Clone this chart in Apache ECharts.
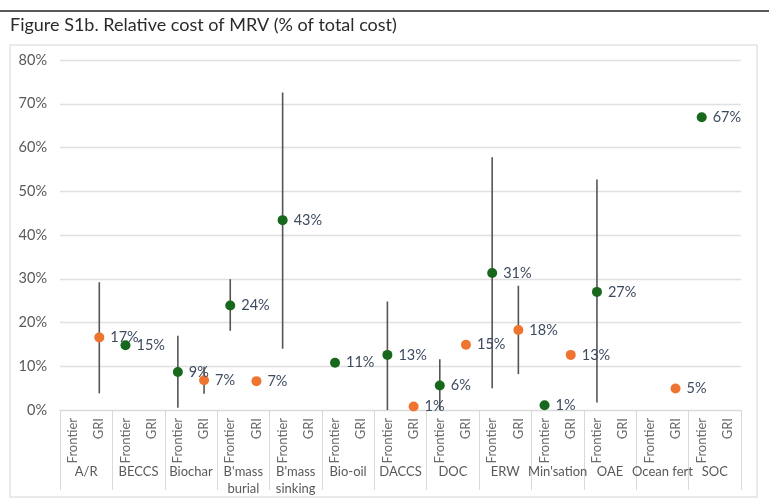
<!DOCTYPE html>
<html><head><meta charset="utf-8">
<script src="https://cdn.jsdelivr.net/npm/echarts@6/dist/echarts.min.js"></script>
<style>html,body{margin:0;padding:0;background:#fff}#c{width:769px;height:503px}</style>
</head><body><div id="c"></div>
<script>
const groups = ['A/R','BECCS','Biochar',"B'mass\nburial","B'mass\nsinking",'Bio-oil','DACCS','DOC','ERW',"Min'sation",'OAE','Ocean fert','SOC'];
const subLabels = ['Frontier','GRI'];
const yTicks = {min:0, max:80, interval:10};
// % of total cost
const frontierValues = [null,14.8,8.7,23.9,43.4,10.8,12.6,5.6,31.3,1.1,27.0,null,66.9];
const frontierLow    = [null,null,0.5,18.1,14.0,null,0,0,5.0,null,1.7,null,null];
const frontierHigh   = [null,null,17.0,29.9,72.6,null,24.8,11.6,57.8,null,52.7,null,null];
const griValues      = [16.6,null,6.8,6.6,null,null,0.8,14.9,18.3,12.6,null,4.9,null];
const griLow         = [3.8,null,3.7,null,null,null,null,null,8.2,null,null,null,null];
const griHigh        = [29.2,null,9.9,null,null,null,null,null,28.4,null,null,null,null];

const cats = [];
groups.forEach(g => subLabels.forEach(s => cats.push(s)));

const fData = [], gData = [], bars = [];
groups.forEach((g,i) => {
  if (frontierValues[i] != null) fData.push([2*i, frontierValues[i]]);
  if (griValues[i] != null) gData.push([2*i+1, griValues[i]]);
  if (frontierLow[i] != null) bars.push([2*i, frontierLow[i], frontierHigh[i]]);
  if (griLow[i] != null) bars.push([2*i+1, griLow[i], griHigh[i]]);
});

const FONT = 'Lato';
const labelStyle = {show:true, position:'right', distance:6, color:'#3d4b60', fontSize:14.5, fontFamily:FONT,
  formatter: p => Math.round(p.value[1]) + '%'};

const chart = echarts.init(document.getElementById('c'), null, {renderer:'canvas'});
chart.setOption({
  animation:false,
  textStyle:{fontFamily:FONT},
  graphic:[
    {type:'line', shape:{x1:0,y1:11,x2:769,y2:11}, style:{stroke:'#222',lineWidth:1.5}},
    {type:'text', left:10, top:16, style:{text:'Figure S1b. Relative cost of MRV (% of total cost)', fill:'#2b2b2b', fontSize:18, fontFamily:FONT}},
    {type:'rect', shape:{x:10,y:45,width:747,height:452}, style:{fill:'none', stroke:'#e3e3e3', lineWidth:1.5}, z:-1}
  ],
  grid:{left:60, right:28, top:60, bottom:93},
  xAxis:[
    {type:'category', data:cats, position:'bottom',
     axisLine:{show:true, lineStyle:{color:'#d9d9d9'}}, axisTick:{show:false},
     axisLabel:{rotate:90, margin:8, color:'#6a6a6a', fontSize:13, fontFamily:FONT, interval:0}},
    {type:'category', data:groups, position:'bottom', offset:0,
     axisLine:{show:false}, axisTick:{show:true, length:80, lineStyle:{color:'#d9d9d9'}},
     axisLabel:{margin:53, color:'#595959', fontSize:13, fontFamily:FONT, interval:0, lineHeight:17, verticalAlign:'top'}}
  ],
  yAxis:{type:'value', min:yTicks.min, max:yTicks.max, interval:yTicks.interval,
    axisLabel:{formatter:'{value}%', color:'#595959', fontSize:14.5, fontFamily:FONT, margin:13},
    axisLine:{show:false}, axisTick:{show:false},
    splitLine:{lineStyle:{color:'#e0e0e0', width:1.3}}},
  series:[
    {type:'custom', xAxisIndex:0, data:bars, z:1,
     renderItem:(params, api) => {
       const a = api.coord([api.value(0), api.value(1)]);
       const b = api.coord([api.value(0), api.value(2)]);
       return {type:'line', shape:{x1:a[0],y1:a[1],x2:b[0],y2:b[1]}, style:{stroke:'#555', lineWidth:1.6}};
     }},
    {type:'scatter', name:'Frontier', xAxisIndex:0, data:fData, symbolSize:10, z:3,
     itemStyle:{color:'#17671d', opacity:1}, label:labelStyle},
    {type:'scatter', name:'GRI', xAxisIndex:0, data:gData, symbolSize:10, z:3,
     itemStyle:{color:'#ee7430', opacity:1}, label:labelStyle}
  ]
});
</script></body></html>
